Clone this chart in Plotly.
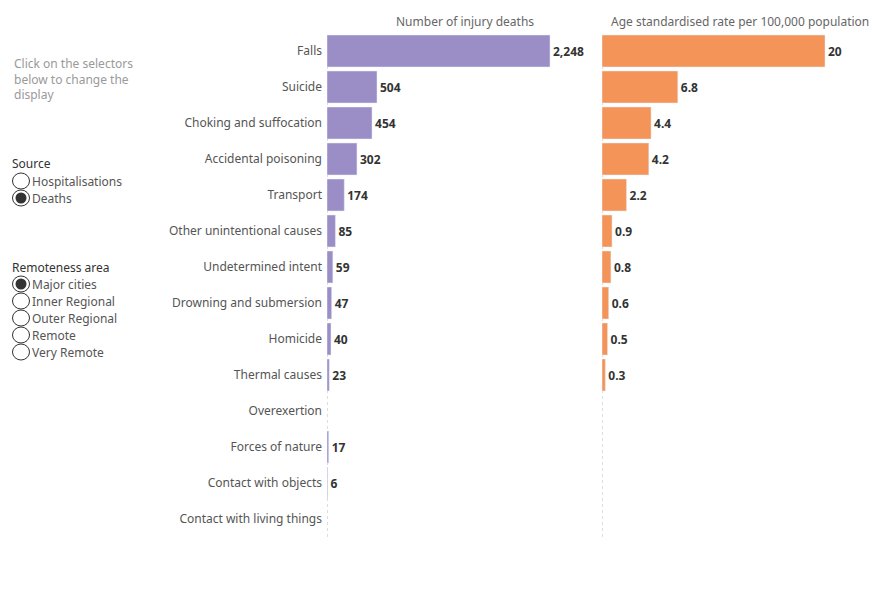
import plotly.graph_objects as go

categories = ["Falls", "Suicide", "Choking and suffocation", "Accidental poisoning", "Transport",
              "Other unintentional causes", "Undetermined intent", "Drowning and submersion",
              "Homicide", "Thermal causes", "Overexertion", "Forces of nature",
              "Contact with objects", "Contact with living things"]
deaths = [2248, 504, 454, 302, 174, 85, 59, 47, 40, 23, None, 17, 6, None]
rates = [20, 6.8, 4.4, 4.2, 2.2, 0.9, 0.8, 0.6, 0.5, 0.3, None, None, None, None]
source_options = ["Hospitalisations", "Deaths"]
source_selected = "Deaths"
remote_options = ["Major cities", "Inner Regional", "Outer Regional", "Remote", "Very Remote"]
remote_selected = "Major cities"

W, H = 890, 600
FONT = "Noto Sans"
PURPLE = "#9B8DC6"
ORANGE = "#F59458"

def px(x):
    return x / W

def py(y):
    return 1 - y / H

death_text = [f"{v:,}" if v is not None else "" for v in deaths]
rate_text = [(f"{v:g}" if v is not None else "") for v in rates]

fig = go.Figure()
fig.add_trace(go.Bar(
    x=deaths, y=categories, orientation="h", marker_color=PURPLE,
    text=death_text, textposition="outside", cliponaxis=False,
    textfont=dict(family=FONT, size=12, color="#333333", weight="bold"),
    xaxis="x", yaxis="y", hoverinfo="x+y"))
fig.add_trace(go.Bar(
    x=rates, y=categories, orientation="h", marker_color=ORANGE,
    text=rate_text, textposition="outside", cliponaxis=False,
    textfont=dict(family=FONT, size=12, color="#333333", weight="bold"),
    xaxis="x2", yaxis="y2", hoverinfo="x+y"))

ydom = [py(537), py(33)]
fig.update_layout(
    width=W, height=H, margin=dict(l=0, r=0, t=0, b=0),
    paper_bgcolor="white", plot_bgcolor="white", showlegend=False,
    bargap=4 / 36,
    font=dict(family=FONT, size=12, color="#555555"),
    xaxis=dict(domain=[px(327), px(597)], range=[0, 2248 * 270 / 223],
               showgrid=False, zeroline=False, showticklabels=False, fixedrange=True),
    xaxis2=dict(domain=[px(602), px(872)], range=[0, 20 * 270 / 223],
                showgrid=False, zeroline=False, showticklabels=False, fixedrange=True),
    yaxis=dict(domain=ydom, type="category", categoryorder="array", categoryarray=categories,
               autorange="reversed", showgrid=False, zeroline=False, ticks="",
               ticklabelstandoff=4,
               tickfont=dict(family=FONT, size=12, color="#555555")),
    yaxis2=dict(domain=ydom, type="category", categoryorder="array", categoryarray=categories,
                autorange="reversed", showgrid=False, zeroline=False, showticklabels=False,
                anchor="x2"),
)

shapes = []
# dotted baselines
for xr in ["x", "x2"]:
    shapes.append(dict(type="line", xref=xr, yref="paper", x0=0, x1=0,
                       y0=py(537), y1=py(33),
                       line=dict(color="#BBBBBB", width=1, dash="dot"), layer="below"))

annotations = [
    dict(text="Number of injury deaths", x=px(465), y=py(22), xref="paper", yref="paper",
         showarrow=False, xanchor="center", yanchor="middle",
         font=dict(family=FONT, size=12, color="#666666")),
    dict(text="Age standardised rate per 100,000 population", x=px(740), y=py(22),
         xref="paper", yref="paper", showarrow=False, xanchor="center", yanchor="middle",
         font=dict(family=FONT, size=12, color="#666666")),
    dict(text="Click on the selectors<br>below to change the<br>display", x=px(12), y=py(53),
         xref="paper", yref="paper", showarrow=False, xanchor="left", yanchor="top", align="left",
         font=dict(family=FONT, size=12, color="#9A9A9A")),
    dict(text="Source", x=px(10), y=py(163), xref="paper", yref="paper", showarrow=False,
         xanchor="left", yanchor="middle", font=dict(family=FONT, size=12, color="#333333")),
    dict(text="Remoteness area", x=px(10), y=py(267), xref="paper", yref="paper", showarrow=False,
         xanchor="left", yanchor="middle", font=dict(family=FONT, size=12, color="#333333")),
]

def radio_group(options, selected, y_start):
    for i, opt in enumerate(options):
        cy = y_start + i * 17
        cx = 21
        rx, ry = 8.5, 8
        shapes.append(dict(type="circle", xref="paper", yref="paper",
                           x0=px(cx - rx), x1=px(cx + rx), y0=py(cy + ry), y1=py(cy - ry),
                           line=dict(color="#333333", width=1), fillcolor="white"))
        if opt == selected:
            r2 = 5.5
            shapes.append(dict(type="circle", xref="paper", yref="paper",
                               x0=px(cx - r2), x1=px(cx + r2), y0=py(cy + r2), y1=py(cy - r2),
                               line=dict(color="#333333", width=0), fillcolor="#333333"))
        annotations.append(dict(text=opt, x=px(30), y=py(cy), xref="paper", yref="paper",
                                showarrow=False, xanchor="left", yanchor="middle",
                                font=dict(family=FONT, size=12, color="#555555")))

radio_group(source_options, source_selected, 181)
radio_group(remote_options, remote_selected, 284)

fig.update_layout(shapes=shapes, annotations=annotations)
fig.write_html("out.html")
